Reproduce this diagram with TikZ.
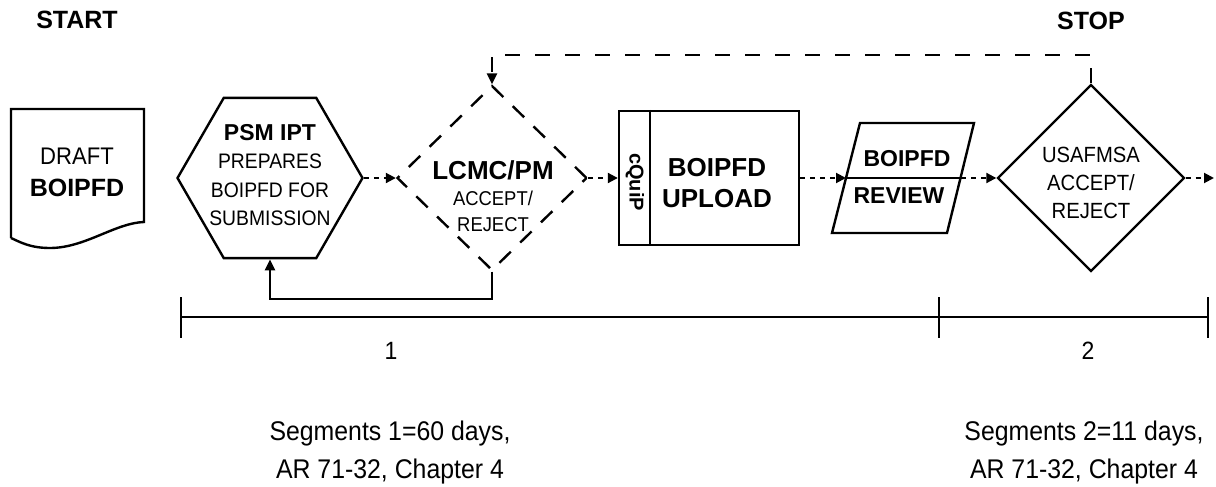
\documentclass[tikz,border=0pt]{standalone}
\usepackage{fontspec}
\setmainfont{Liberation Sans}[UprightFeatures={FakeStretch=0.92}]
\usetikzlibrary{positioning,arrows.meta,shapes.geometric}

\begin{document}
\begin{tikzpicture}[
  x=0.5pt, y=-0.5pt,
  outline/.style={draw, line width=1.2pt, inner sep=0pt},
  hexa/.style={outline, regular polygon, regular polygon sides=6, minimum size=92.5pt},
  decision/.style={outline, diamond, minimum width=95pt, minimum height=92.5pt},
  txt/.style={align=center, inner sep=0pt, font=\fontsize{10.5}{14.2}\selectfont},
  head/.style={txt, font=\fontsize{12.5}{15}\selectfont\bfseries},
  flow/.style={-{Triangle[length=5pt, width=5pt]}, line width=1pt, dash pattern=on 2.5pt off 2.5pt},
  redo/.style={-{Triangle[length=5.5pt, width=5pt]}, line width=1.2pt},
  retry/.style={redo, dash pattern=on 7.5pt off 7.5pt},
  axis/.style={line width=1.1pt}
]
  \useasboundingbox (0,0) rectangle (1216,487);

  % Start and stop
  \node[head] (start) at (77,20) {START};
  \node[head] (stop) at (1091,21) {STOP};

  % Draft document
  \node[txt, font=\fontsize{12}{16}\selectfont] (draft) at (77,172) {DRAFT\\{\fontsize{12.5}{16}\selectfont\bfseries BOIPFD}};
  \draw[outline] (11,238) -- (11,109) -- (144,109) -- (144,222)
    .. controls (115,223) and (85,248) .. (50,248)
    .. controls (30,248) and (20,242) .. (11,238);

  % Process shapes
  \node[hexa] (psm) at (270,178) {};
  \node[txt] (psmtxt) at (270,175) {{\fontsize{11.5}{14.2}\selectfont\bfseries PSM IPT}\\PREPARES\\BOIPFD FOR\\SUBMISSION};

  \node[decision, dash pattern=on 8pt off 6.5pt] (lcmc) at (492,178) {};
  \node[txt, font=\fontsize{10}{13}\selectfont] (lcmctxt) at (493,196) {{\fontsize{13}{15}\selectfont\bfseries LCMC/PM}\\ACCEPT/\\REJECT};

  \node[outline, minimum width=90pt, minimum height=67pt] (upload) at (709,178) {};
  \draw[outline] ([xshift=16pt]upload.north west) -- ([xshift=16pt]upload.south west);
  \node[txt, font=\fontsize{10}{12}\selectfont\bfseries, rotate=-90] (cquip) at (635,182) {cQuiP};
  \node[head, font=\fontsize{13}{15.5}\selectfont\bfseries] (uploadtxt) at (717,183) {BOIPFD\\UPLOAD};

  \coordinate (revl) at (846,178);
  \coordinate (revr) at (961,178);
  \draw[outline] (832,233) -- (860,123) -- (974,123) -- (947,233) -- cycle;
  \draw[outline] (revl) -- (revr);
  \node[head, font=\fontsize{11.5}{14}\selectfont\bfseries] (revtop) at (907,159) {BOIPFD};
  \node[head, font=\fontsize{11.5}{14}\selectfont\bfseries] (revbot) at (899,196) {REVIEW};

  \node[decision, minimum width=93.5pt, minimum height=93.5pt] (usaf) at (1091,178) {};
  \node[txt, font=\fontsize{11}{14.2}\selectfont] (usaftxt) at (1091,183) {USAFMSA\\ACCEPT/\\REJECT};
  \coordinate (exit) at (1214,178);

  % Connectors
  \draw[flow] (psm.east) -- (lcmc.west);
  \draw[flow] (lcmc.east) -- (upload.west);
  \draw[flow] (upload.east) -- (revl);
  \draw[flow] (revr) -- (usaf.west);
  \draw[flow] (usaf.east) -- (exit);
  \draw[redo] (lcmc.south) -- ++(0,27) -| (psm.south);
  \draw[retry] (usaf.north) -- ++(0,-28.5) -| (lcmc.north);

  % Timeline
  \coordinate (t0) at (181,317);
  \coordinate (t1) at (939,317);
  \coordinate (t2) at (1208,317);
  \draw[axis] (t0) -- (t2);
  \foreach \p in {t0,t1,t2}
    \draw[axis] ([yshift=10pt]\p) -- ([yshift=-10.5pt]\p);
  \node[txt, font=\fontsize{12.5}{15}\selectfont] (seg1) at (391,351) {1};
  \node[txt, font=\fontsize{12.5}{15}\selectfont] (seg2) at (1088,351) {2};
  \node[txt, font=\fontsize{13.5}{19}\selectfont] (note1) at (390,453) {Segments 1=60 days,\\AR 71-32, Chapter 4};
  \node[txt, font=\fontsize{13.5}{19}\selectfont] (note2) at (1084,453) {Segments 2=11 days,\\AR 71-32, Chapter 4};
\end{tikzpicture}
\end{document}
